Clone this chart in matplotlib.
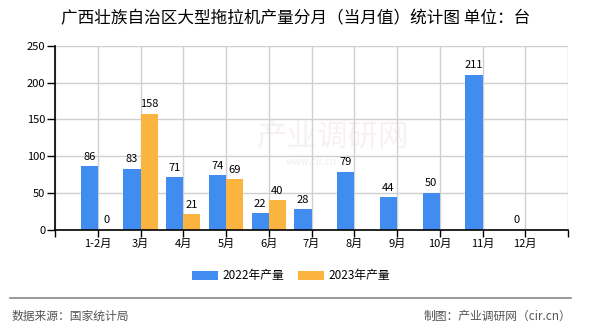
import matplotlib
matplotlib.use('Agg')
import matplotlib.pyplot as plt
import numpy as np

plt.rcParams['font.family'] = ['Noto Sans CJK SC', 'DejaVu Sans']

months = ['1-2月', '3月', '4月', '5月', '6月', '7月', '8月', '9月', '10月', '11月', '12月']
v2022 = [86, 83, 71, 74, 22, 28, 79, 44, 50, 211, 0]
v2023 = [0, 158, 21, 69, 40, None, None, None, None, None, None]
series_names = ['2022年产量', '2023年产量']
title = '广西壮族自治区大型拖拉机产量分月（当月值）统计图 单位：台'
source = '数据来源：国家统计局'
credit = '制图：产业调研网（cir.cn）'

c_blue = '#418CF0'
c_orange = '#FCB441'

fig = plt.figure(figsize=(5.9, 3.3), dpi=100)
ax = fig.add_axes([55/590, 1-229.6/330, (568-55)/590, (229.6-46)/330])

x = np.arange(1, len(months)+1)
w = 0.4

# watermark, very faint
ax.text(6.5, 125, '产业调研网', fontsize=22, color='#f8f1f1', ha='center', va='center', zorder=0.5)
ax.text(6.0, 92, 'www.cir.cn', fontsize=7, color='#f3eeee', ha='center', va='center', zorder=0.5)

b1 = ax.bar(x - w/2, v2022, width=w, color=c_blue, zorder=2, label=series_names[0])
for xi, v in zip(x - w/2, v2022):
    ax.text(xi, v + 6, '%d' % v, ha='center', va='bottom', fontsize=8, zorder=3)

x23 = [xi + w/2 for xi, v in zip(x, v2023) if v is not None]
y23 = [v for v in v2023 if v is not None]
b2 = ax.bar(x23, y23, width=w, color=c_orange, zorder=2, label=series_names[1])
for xi, v in zip(x23, y23):
    ax.text(xi, v + 6, '%d' % v, ha='center', va='bottom', fontsize=8, zorder=3)

ax.set_xlim(0, 12)
ax.set_ylim(0, 250)
ax.set_xticks(np.arange(0, 13))
ax.set_xticklabels([''] + months + [''], fontsize=8)
ax.set_yticks(np.arange(0, 251, 50))
ax.tick_params(axis='y', labelsize=8, length=6, width=1, pad=1)
ax.tick_params(axis='x', length=5, width=1, pad=2)
ax.grid(True, color='#d0d0d0', linewidth=1, zorder=0)
ax.set_axisbelow(True)
for s in ['top', 'right']:
    ax.spines[s].set_visible(False)
for s in ['left', 'bottom']:
    ax.spines[s].set_linewidth(1.2)
    ax.spines[s].set_zorder(4)

fig.text(296/590, 1-19/330, title, ha='center', va='center', fontsize=12)

fig.legend(handles=[b1, b2], loc='center', bbox_to_anchor=(291/590, 1-276/330),
           ncol=2, frameon=False, fontsize=8.5, handlelength=2.2, handleheight=0.9,
           handletextpad=0.4, columnspacing=1.2)

fig.add_artist(plt.Line2D([10/590, 571/590], [1-297.7/330, 1-297.7/330],
                          color='#888888', linewidth=1.2))
fig.text(12/590, 1-316/330, source, ha='left', va='center', fontsize=8.5, color='#555555')
fig.text(571/590, 1-316/330, credit, ha='right', va='center', fontsize=8.5, color='#555555')

fig.savefig('out.png', dpi=100)
